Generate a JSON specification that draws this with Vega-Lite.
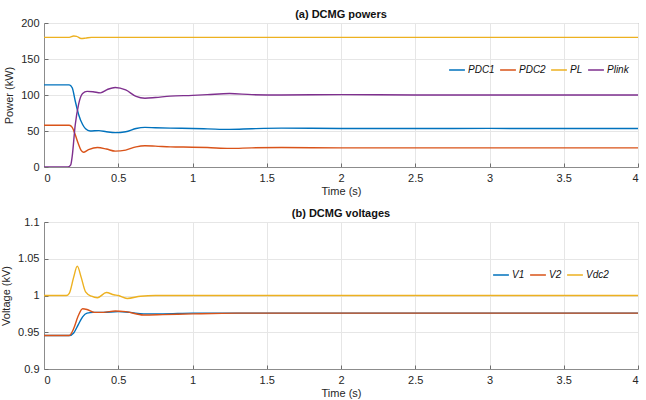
{
  "$schema": "https://vega.github.io/schema/vega-lite/v6.json",
  "padding": {"left": 0, "top": 8, "right": 0, "bottom": 0},
  "background": "white",
  "spacing": 55,
  "bounds": "flush",
  "config": {
    "font": "Liberation Sans",
    "view": {"stroke": "#8c8c8c", "strokeWidth": 1},
    "axis": {
      "domainColor": "#8c8c8c",
      "tickColor": "#6e6e6e",
      "labelColor": "#262626",
      "titleColor": "#262626",
      "labelFontSize": 11,
      "titleFontSize": 11,
      "titleFontWeight": "normal",
      "gridColor": "#e6e6e6",
      "tickSize": -4,
      "labelPadding": 9
    },
    "title": {"fontSize": 11, "fontWeight": "bold", "color": "#111111", "offset": -3},
    "legend": {
      "orient": "none",
      "direction": "horizontal",
      "symbolType": "stroke",
      "symbolStrokeWidth": 1.5,
      "symbolSize": 250,
      "labelFontSize": 10,
      "labelFontStyle": "italic",
      "labelColor": "#111111",
      "columnPadding": 2,
      "labelOffset": 2,
      "title": null
    }
  },
  "datasets": {
    "powers": [
      {"s": "PDC1", "t": 0, "v": 114}, {"s": "PDC1", "t": 0.17, "v": 114}, {"s": "PDC1", "t": 0.19, "v": 110}, {"s": "PDC1", "t": 0.21, "v": 92}, {"s": "PDC1", "t": 0.233, "v": 73}, {"s": "PDC1", "t": 0.26, "v": 59}, {"s": "PDC1", "t": 0.28, "v": 53}, {"s": "PDC1", "t": 0.31, "v": 50}, {"s": "PDC1", "t": 0.37, "v": 50.5}, {"s": "PDC1", "t": 0.42, "v": 49}, {"s": "PDC1", "t": 0.48, "v": 47.8}, {"s": "PDC1", "t": 0.55, "v": 49}, {"s": "PDC1", "t": 0.62, "v": 53.5}, {"s": "PDC1", "t": 0.68, "v": 55}, {"s": "PDC1", "t": 0.75, "v": 54.5}, {"s": "PDC1", "t": 0.85, "v": 54}, {"s": "PDC1", "t": 1.0, "v": 53.5}, {"s": "PDC1", "t": 1.1, "v": 53}, {"s": "PDC1", "t": 1.25, "v": 52.2}, {"s": "PDC1", "t": 1.4, "v": 53.2}, {"s": "PDC1", "t": 1.6, "v": 54}, {"s": "PDC1", "t": 2.0, "v": 53.5}, {"s": "PDC1", "t": 2.5, "v": 53.5}, {"s": "PDC1", "t": 3.0, "v": 53.6}, {"s": "PDC1", "t": 3.5, "v": 53.5}, {"s": "PDC1", "t": 4.0, "v": 53.5},
      {"s": "PDC2", "t": 0, "v": 58}, {"s": "PDC2", "t": 0.17, "v": 58}, {"s": "PDC2", "t": 0.19, "v": 55}, {"s": "PDC2", "t": 0.21, "v": 45}, {"s": "PDC2", "t": 0.23, "v": 33}, {"s": "PDC2", "t": 0.25, "v": 23}, {"s": "PDC2", "t": 0.265, "v": 20.5}, {"s": "PDC2", "t": 0.3, "v": 24}, {"s": "PDC2", "t": 0.36, "v": 27}, {"s": "PDC2", "t": 0.42, "v": 25}, {"s": "PDC2", "t": 0.48, "v": 22}, {"s": "PDC2", "t": 0.55, "v": 23.5}, {"s": "PDC2", "t": 0.62, "v": 28}, {"s": "PDC2", "t": 0.68, "v": 29.5}, {"s": "PDC2", "t": 0.75, "v": 29}, {"s": "PDC2", "t": 0.85, "v": 28}, {"s": "PDC2", "t": 1.0, "v": 27.5}, {"s": "PDC2", "t": 1.1, "v": 27}, {"s": "PDC2", "t": 1.25, "v": 25.8}, {"s": "PDC2", "t": 1.4, "v": 26.6}, {"s": "PDC2", "t": 1.6, "v": 27}, {"s": "PDC2", "t": 2.0, "v": 26.5}, {"s": "PDC2", "t": 2.5, "v": 26.5}, {"s": "PDC2", "t": 3.0, "v": 26.5}, {"s": "PDC2", "t": 3.5, "v": 26.5}, {"s": "PDC2", "t": 4.0, "v": 26.5},
      {"s": "PL", "t": 0, "v": 180}, {"s": "PL", "t": 0.17, "v": 180}, {"s": "PL", "t": 0.2, "v": 182}, {"s": "PL", "t": 0.22, "v": 181.5}, {"s": "PL", "t": 0.25, "v": 178.5}, {"s": "PL", "t": 0.28, "v": 179}, {"s": "PL", "t": 0.32, "v": 180}, {"s": "PL", "t": 0.5, "v": 180}, {"s": "PL", "t": 1.0, "v": 180}, {"s": "PL", "t": 2.0, "v": 180}, {"s": "PL", "t": 3.0, "v": 180}, {"s": "PL", "t": 4.0, "v": 180},
      {"s": "Plink", "t": 0, "v": 0}, {"s": "Plink", "t": 0.16, "v": 0}, {"s": "Plink", "t": 0.18, "v": 3}, {"s": "Plink", "t": 0.19, "v": 15}, {"s": "Plink", "t": 0.21, "v": 58}, {"s": "Plink", "t": 0.233, "v": 87}, {"s": "Plink", "t": 0.26, "v": 102}, {"s": "Plink", "t": 0.29, "v": 105}, {"s": "Plink", "t": 0.33, "v": 104.5}, {"s": "Plink", "t": 0.38, "v": 103}, {"s": "Plink", "t": 0.43, "v": 108}, {"s": "Plink", "t": 0.48, "v": 110.5}, {"s": "Plink", "t": 0.55, "v": 107}, {"s": "Plink", "t": 0.62, "v": 98}, {"s": "Plink", "t": 0.68, "v": 95.5}, {"s": "Plink", "t": 0.75, "v": 96.5}, {"s": "Plink", "t": 0.85, "v": 98.5}, {"s": "Plink", "t": 1.0, "v": 99.5}, {"s": "Plink", "t": 1.1, "v": 100.5}, {"s": "Plink", "t": 1.25, "v": 102}, {"s": "Plink", "t": 1.4, "v": 100.5}, {"s": "Plink", "t": 1.6, "v": 100}, {"s": "Plink", "t": 2.0, "v": 100.5}, {"s": "Plink", "t": 2.5, "v": 100}, {"s": "Plink", "t": 3.0, "v": 100}, {"s": "Plink", "t": 3.5, "v": 100}, {"s": "Plink", "t": 4.0, "v": 100}
    ],
    "voltages": [
      {"s": "V1", "t": 0, "v": 0.9455}, {"s": "V1", "t": 0.17, "v": 0.9455}, {"s": "V1", "t": 0.2, "v": 0.949}, {"s": "V1", "t": 0.23, "v": 0.96}, {"s": "V1", "t": 0.26, "v": 0.971}, {"s": "V1", "t": 0.29, "v": 0.976}, {"s": "V1", "t": 0.33, "v": 0.977}, {"s": "V1", "t": 0.4, "v": 0.977}, {"s": "V1", "t": 0.5, "v": 0.978}, {"s": "V1", "t": 0.58, "v": 0.977}, {"s": "V1", "t": 0.67, "v": 0.975}, {"s": "V1", "t": 0.8, "v": 0.975}, {"s": "V1", "t": 1.0, "v": 0.976}, {"s": "V1", "t": 1.5, "v": 0.976}, {"s": "V1", "t": 2.0, "v": 0.976}, {"s": "V1", "t": 3.0, "v": 0.976}, {"s": "V1", "t": 4.0, "v": 0.976},
      {"s": "V2", "t": 0, "v": 0.9455}, {"s": "V2", "t": 0.17, "v": 0.9455}, {"s": "V2", "t": 0.2, "v": 0.955}, {"s": "V2", "t": 0.23, "v": 0.972}, {"s": "V2", "t": 0.26, "v": 0.982}, {"s": "V2", "t": 0.29, "v": 0.981}, {"s": "V2", "t": 0.34, "v": 0.977}, {"s": "V2", "t": 0.4, "v": 0.977}, {"s": "V2", "t": 0.48, "v": 0.979}, {"s": "V2", "t": 0.55, "v": 0.978}, {"s": "V2", "t": 0.67, "v": 0.9735}, {"s": "V2", "t": 0.8, "v": 0.974}, {"s": "V2", "t": 1.0, "v": 0.975}, {"s": "V2", "t": 1.3, "v": 0.976}, {"s": "V2", "t": 2.0, "v": 0.976}, {"s": "V2", "t": 3.0, "v": 0.976}, {"s": "V2", "t": 4.0, "v": 0.976},
      {"s": "Vdc2", "t": 0, "v": 1.0}, {"s": "Vdc2", "t": 0.15, "v": 1.0}, {"s": "Vdc2", "t": 0.17, "v": 1.003}, {"s": "Vdc2", "t": 0.2, "v": 1.025}, {"s": "Vdc2", "t": 0.224, "v": 1.04}, {"s": "Vdc2", "t": 0.25, "v": 1.025}, {"s": "Vdc2", "t": 0.28, "v": 1.005}, {"s": "Vdc2", "t": 0.32, "v": 0.999}, {"s": "Vdc2", "t": 0.36, "v": 0.997}, {"s": "Vdc2", "t": 0.42, "v": 1.004}, {"s": "Vdc2", "t": 0.47, "v": 1.001}, {"s": "Vdc2", "t": 0.5, "v": 1.0}, {"s": "Vdc2", "t": 0.56, "v": 0.996}, {"s": "Vdc2", "t": 0.65, "v": 0.999}, {"s": "Vdc2", "t": 0.75, "v": 1.0}, {"s": "Vdc2", "t": 1.0, "v": 1.0}, {"s": "Vdc2", "t": 2.0, "v": 1.0}, {"s": "Vdc2", "t": 3.0, "v": 1.0}, {"s": "Vdc2", "t": 4.0, "v": 1.0}
    ]
  },
  "vconcat": [
    {
      "title": "(a) DCMG powers",
      "width": 594,
      "height": 144,
      "data": {"name": "powers"},
      "mark": {"type": "line", "interpolate": "monotone", "strokeWidth": 1.4, "clip": true},
      "encoding": {
        "x": {"field": "t", "type": "quantitative", "scale": {"domain": [0, 4], "nice": false}, "axis": {"title": "Time (s)", "values": [0, 0.5, 1, 1.5, 2, 2.5, 3, 3.5, 4], "format": "~g", "titlePadding": 2}},
        "y": {"field": "v", "type": "quantitative", "scale": {"domain": [0, 200], "nice": false}, "axis": {"title": "Power (kW)", "values": [0, 50, 100, 150, 200], "titlePadding": 6}},
        "color": {"field": "s", "type": "nominal", "scale": {"domain": ["PDC1", "PDC2", "PL", "Plink"], "range": ["#0072BD", "#D95319", "#EDB120", "#7E2F8E"]}, "legend": {"legendX": 404, "legendY": 38}}
      }
    },
    {
      "title": "(b) DCMG voltages",
      "width": 594,
      "height": 147,
      "data": {"name": "voltages"},
      "mark": {"type": "line", "interpolate": "monotone", "strokeWidth": 1.4, "clip": true},
      "encoding": {
        "x": {"field": "t", "type": "quantitative", "scale": {"domain": [0, 4], "nice": false}, "axis": {"title": "Time (s)", "values": [0, 0.5, 1, 1.5, 2, 2.5, 3, 3.5, 4], "format": "~g", "titlePadding": 2}},
        "y": {"field": "v", "type": "quantitative", "scale": {"domain": [0.9, 1.1], "nice": false, "zero": false}, "axis": {"title": "Voltage (kV)", "values": [0.9, 0.95, 1, 1.05, 1.1], "format": "~g", "titlePadding": 6}},
        "color": {"field": "s", "type": "nominal", "scale": {"domain": ["V1", "V2", "Vdc2"], "range": ["#0072BD", "#D95319", "#EDB120"]}, "legend": {"legendX": 448, "legendY": 44}}
      }
    }
  ],
  "resolve": {"scale": {"color": "independent"}}
}
